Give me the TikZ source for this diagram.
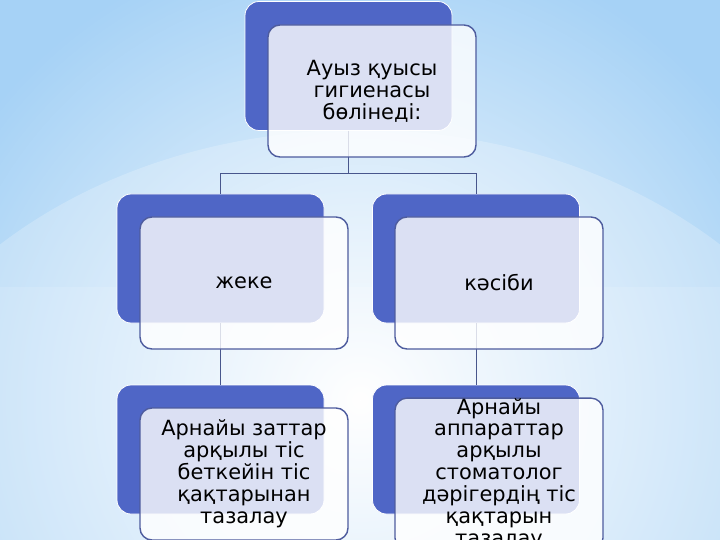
\documentclass[tikz,border=0pt]{standalone}
\usepackage{fontspec}
\setmainfont{DejaVu Sans}
\usetikzlibrary{fadings}
\definecolor{bgblue}{RGB}{166,210,246}
\definecolor{tierblue}{RGB}{79,102,198}
\definecolor{rimblue}{RGB}{78,92,158}
\definecolor{linkgray}{RGB}{72,86,140}
\tikzfading[name=glowfade, inner color=transparent!0, outer color=transparent!100]
\newcommand{\tierback}[2]{\node[backbox] at (#1) (#2) {}}
\newcommand{\tierfront}[3]{\node[frontbox] at (#1) (#2) {#3}}

\begin{document}
\begin{tikzpicture}[x=1bp,y=-1bp,
		backbox/.style={rectangle,rounded corners=14bp,fill=tierblue,draw=white,line width=0.8bp,minimum width=207bp,minimum height=129bp,inner sep=0pt},
		frontbox/.style={rectangle,rounded corners=12bp,fill=white,fill opacity=0.8,text opacity=1,draw=rimblue,line width=1.4bp,minimum width=208bp,minimum height=132bp,inner sep=0pt,align=center,font=\fontsize{21}{22}\selectfont},
		link/.style={draw=linkgray,line width=0.9bp}]
				\useasboundingbox (0,0) rectangle (720,540);
				\begin{scope}
				\clip (0,0) rectangle (720,540);
				\fill[bgblue] (0,0) rectangle (720,540);
				\fill[white,opacity=0.12] (0,287) rectangle (720,540);
				\fill[white,opacity=0.22] (360,530) ellipse (514 and 400);
				\fill[white,path fading=glowfade] (360,400) circle (470);
				\end{scope}
				
				\tierback{348.5,66}{topb};
				\tierback{220.5,258.5}{jekeb};
				\tierback{476,258.5}{kasibib};
				\tierback{220.5,449.5}{jekesubb};
				\tierback{476,449.5}{kasibisubb};
				
				\coordinate (fork) at (348.5,173);
				\draw[link] (topb.south) -- (fork) -| (jekeb.north);
				\draw[link] (fork) -| (kasibib.north);
				\draw[link] (jekeb.south) -- (jekesubb.north);
				\draw[link] (kasibib.south) -- (kasibisubb.north);
				
				\tierfront{372,91}{top}{Ауыз қуысы\\гигиенасы\\бөлінеді:};
				\tierfront{244,283}{jeke}{жеке};
				\tierfront{499,283}{kasibi}{кәсіби};
				\tierfront{244,474}{jekesub}{Арнайы заттар\\арқылы тіс\\беткейін тіс\\қақтарынан\\тазалау};
				\tierfront{499,474}{kasibisub}{Арнайы\\аппараттар\\арқылы\\стоматолог\\дәрігердің тіс\\қақтарын\\тазалау};
				
\end{tikzpicture}
\end{document}
